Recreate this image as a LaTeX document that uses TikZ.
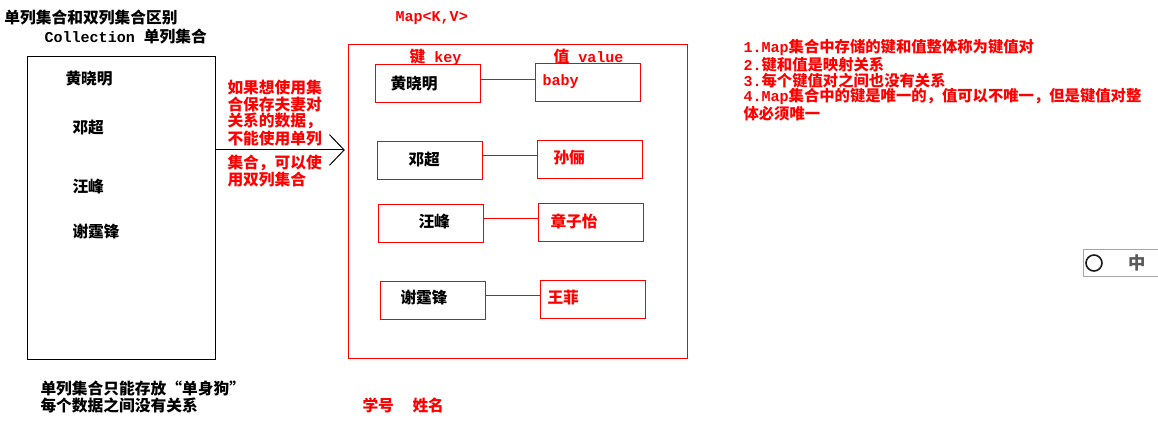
\documentclass[tikz,border=0pt]{standalone}
\usepackage{fontspec}
\setmainfont{Noto Sans CJK SC}
\setmonofont{Liberation Mono}
\usetikzlibrary{arrows.meta,fit}
\newcommand\en[1]{{\ttfamily\fontsize{11.3pt}{11.25pt}\selectfont #1}}

\begin{document}
\begin{tikzpicture}[x=0.75pt, y=-0.75pt, line width=0.75pt,
    txt/.style={inner sep=0pt, anchor=west, align=left, font=\bfseries\fontsize{11.8pt}{11.25pt}\selectfont},
    rtxt/.style={txt, text=red},
    box/.style={draw, inner sep=0pt},
    rbox/.style={box, draw=red}]
    \useasboundingbox (0,0) rectangle (1158,434);
    % titles
    \node[txt] (title) at (4,18) {单列集合和双列集合区别};
    \node[txt] (coll) at (44,37) {\en{Collection }单列集合};
    \node[rtxt] (maptitle) at (395,18) {\en{Map<K,V>}};
    % single column set
    \node[box, fit={(27,57) (215,360)}] (set1) {};
    \node[txt] (s1) at (65,79) {黄晓明};
    \node[txt] (s2) at (72,128) {邓超};
    \node[txt] (s3) at (72,187) {汪峰};
    \node[txt] (s4) at (72,232) {谢霆锋};
    \node[txt] (note1) at (40,397) {单列集合只能存放“单身狗”\\每个数据之间没有关系};
    % why a map
    \node[rtxt] (why1) at (227,113) {如果想使用集\\合保存夫妻对\\关系的数据，\\不能使用单列};
    \node[rtxt] (why2) at (227,171) {集合，可以使\\用双列集合};
    % map
    \node[rbox, fit={(348,45) (687,359)}] (map1) {};
    \draw[-{Straight Barb[length=11pt, width=23pt]}] (set1.east |- 0,150) -- ([xshift=-2pt]map1.west |- 0,150);
    \node[rtxt] (keyhead) at (409,57) {键\en{ key}};
    \node[rtxt] (valhead) at (553,57) {值\en{ value}};
    \node[rbox, fit={(375,65) (480,103)}] (k1) {};
    \node[rbox, fit={(377,142) (482,180)}] (k2) {};
    \node[rbox, fit={(378,205) (483,243)}] (k3) {};
    \node[rbox, fit={(380,282) (485,320)}] (k4) {};
    \node[rbox, fit={(535,64) (640,102)}] (v1) {};
    \node[rbox, fit={(537,141) (642,179)}] (v2) {};
    \node[rbox, fit={(538,204) (643,242)}] (v3) {};
    \node[rbox, fit={(540,281) (645,319)}] (v4) {};
    \node[txt] (k1t) at (390,84) {黄晓明};
    \node[txt] (k2t) at (408,160) {邓超};
    \node[txt] (k3t) at (418,222) {汪峰};
    \node[txt] (k4t) at (400,298) {谢霆锋};
    \node[rtxt] (v1t) at (542,82) {\en{baby}};
    \node[rtxt] (v2t) at (553,158) {孙俪};
    \node[rtxt] (v3t) at (550,221) {章子怡};
    \node[rtxt] (v4t) at (547,298) {王菲};
    \draw[red] (k1.east |- 0,80) -- (v1.west |- 0,80);
    \draw[red] (k2.east |- 0,156) -- (v2.west |- 0,156);
    \draw[red] (k3.east |- 0,219) -- (v3.west |- 0,219);
    \draw[red] (k4.east |- 0,296) -- (v4.west |- 0,296);
    \node[rtxt] (num) at (362,405) {学号};
    \node[rtxt] (name) at (412,405) {姓名};
    % notes
    \node[rtxt, font=\bfseries\fontsize{11.5pt}{11.25pt}\selectfont] (notes) at (743,80) {\en{1.Map}集合中存储的键和值整体称为键值对\\\en{2.}键和值是映射关系\\\en{3.}每个键值对之间也没有关系\\\en{4.Map}集合中的键是唯一的，值可以不唯一，但是键值对整\\体必须唯一};
    % input method bar
    \node[draw=gray!70, inner sep=0pt, fit={(1083,250) (1160,277)}] (ime) {};
    \draw[gray!20!black, line width=1.2pt] (1094,263) circle (8);
    \node[inner sep=0pt, text=gray!70!black, font=\bfseries\fontsize{13pt}{13pt}\selectfont] (imechar) at (1137,263) {中};
\end{tikzpicture}
\end{document}
